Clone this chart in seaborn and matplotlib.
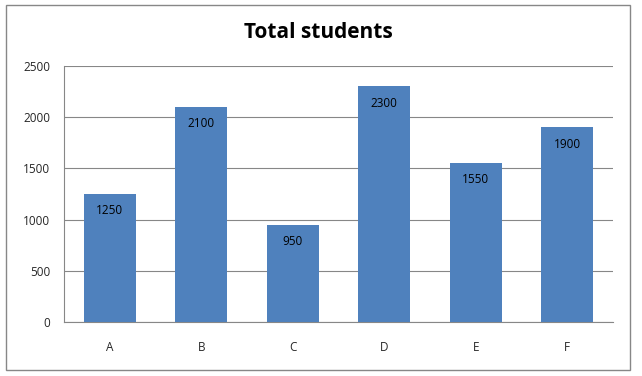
import matplotlib
matplotlib.use("Agg")
import matplotlib.pyplot as plt
import seaborn as sns
import pandas as pd
from matplotlib.patches import Rectangle

categories = ["A", "B", "C", "D", "E", "F"]
values = [1250, 2100, 950, 2300, 1550, 1900]
yticks = [0, 500, 1000, 1500, 2000, 2500]

sns.set_theme(style="white")
plt.rcParams['font.family'] = ['Open Sans', 'DejaVu Sans']

df = pd.DataFrame({"cat": categories, "val": values})

fig = plt.figure(figsize=(6.42, 3.76), dpi=100)
ax = fig.add_axes([64/642, 1-322/376, (613-64)/642, (322-66)/376])
sns.barplot(data=df, x="cat", y="val", color="#4F81BD", saturation=1, width=0.57,
            linewidth=0, ax=ax, zorder=3)

ax.set_ylim(0, 2500)
ax.set_yticks(yticks)
ax.set_yticklabels([str(t) for t in yticks], fontsize=8.5)
ax.set_xlabel("")
ax.set_ylabel("")
ax.tick_params(axis="x", labelsize=8.5, length=0, pad=14)
ax.tick_params(axis="y", length=0, pad=10)
ax.grid(axis="y", color="#878787", linewidth=0.8, zorder=0)
ax.set_axisbelow(True)
for s in ["top", "right"]:
    ax.spines[s].set_visible(False)
ax.spines["left"].set_color("#878787")
ax.spines["bottom"].set_color("#878787")
ax.spines["left"].set_linewidth(0.8)
ax.spines["bottom"].set_linewidth(0.8)

for i, v in enumerate(values):
    ax.annotate(str(v), (i, v), xytext=(0, -12), textcoords="offset points",
                ha="center", va="center", fontsize=8.5, color="black", zorder=4)

fig.text(318/642, 1-33/376, "Total students", ha="center", va="center",
         fontsize=15, fontweight="bold", color="black")

fig.patches.append(Rectangle((6/642, 1-370/376), (630-6)/642, (370-5)/376,
                             transform=fig.transFigure, fill=False,
                             edgecolor="#878787", linewidth=1))

fig.savefig("out.png", dpi=100)
